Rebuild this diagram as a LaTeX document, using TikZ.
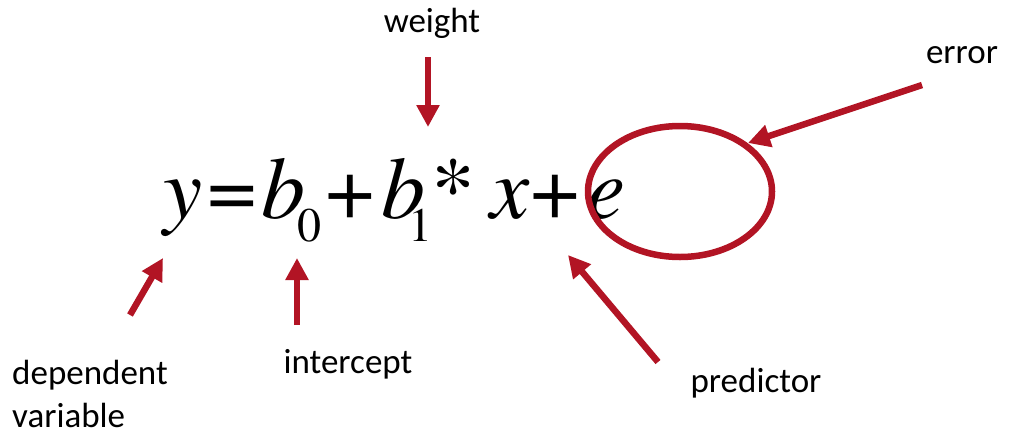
\documentclass[tikz,border=0pt]{standalone}
\usepackage{fontspec}
\newfontfamily\eqfont{texgyretermes}[Extension=.otf, UprightFont=*-regular, ItalicFont=*-italic]
\newfontfamily\labelfont{Carlito}
\usepackage{tikz}
\usetikzlibrary{arrows.meta, shapes.geometric}
\definecolor{errred}{RGB}{178,20,36}
\newcommand{\putat}[2]{\rlap{\hskip#1pt #2}}
\newcommand{\lowidx}[1]{\raisebox{-23pt}{\fontsize{48}{48}\selectfont\upshape #1}}

\begin{document}
\begin{tikzpicture}[
    x=1pt, y=-1pt,
    lbl/.style={font=\labelfont\fontsize{35}{43}\selectfont, inner sep=0pt, anchor=base},
    arrow/.style={-{Triangle[length=22pt, width=22pt]}, line width=6.5pt, errred},
    ring/.style={ellipse, draw=errred, line width=6.5pt, inner sep=0pt}
]
\useasboundingbox (0,0) rectangle (1009,432);

\node[inner sep=0pt, anchor=base west, font=\eqfont\fontsize{88}{88}\selectfont] (eq) at (163,218)
  {\putat{0}{\itshape y}\putat{44}{=}\putat{98}{\itshape b}\putat{134}{\lowidx{0}}%
   \putat{162}{+}\putat{218}{\itshape b}\putat{245}{\lowidx{1}}\putat{268}{*}%
   \putat{327}{\itshape x}\putat{367}{+}\putat{423}{\itshape e}\hskip467pt};
\node[ring, minimum width=184pt, minimum height=131pt] (errring) at (680,191.5) {};

\node[lbl] (weight) at (432,32) {weight};
\node[lbl] (error) at (962,63) {error};
\node[lbl] (predictor) at (756,392) {predictor};
\node[lbl] (intercept) at (348,373) {intercept};
\node[lbl, anchor=north west, align=left] (dependent) at (12,360) {dependent\\variable};

\coordinate (wfrom) at (428,57);
\coordinate (wto) at (428,127);
\coordinate (efrom) at (922,85);
\coordinate (eto) at (748,143);
\coordinate (pfrom) at (658,362);
\coordinate (pto) at (568,255);
\coordinate (dfrom) at (130,315);
\coordinate (dto) at (163,258);
\coordinate (ifrom) at (297,325);
\coordinate (ito) at (297,258);

\draw[arrow] (wfrom) -- (wto);
\draw[arrow] (efrom) -- (eto);
\draw[arrow] (pfrom) -- (pto);
\draw[arrow] (dfrom) -- (dto);
\draw[arrow] (ifrom) -- (ito);
\end{tikzpicture}
\end{document}
